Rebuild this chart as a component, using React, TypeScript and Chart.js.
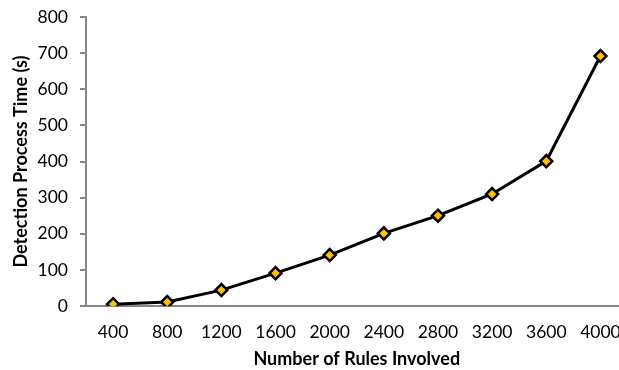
import React, { useEffect, useRef } from "react";
import { Chart, registerables } from "chart.js";

Chart.register(...registerables);

const categories = ["400", "800", "1200", "1600", "2000", "2400", "2800", "3200", "3600", "4000"];
const detectionTimes = [5, 11, 44, 91, 141, 201, 250, 310, 401, 692];
const xTitle = "Number of Rules Involved";
const yTitle = "Detection Process Time (s)";

export default function App() {
  const ref = useRef<HTMLCanvasElement | null>(null);
  useEffect(() => {
    if (!ref.current) return;
    const axisColor = "#868686";
    const chart = new Chart(ref.current, {
      type: "line",
      data: {
        labels: categories,
        datasets: [
          {
            data: detectionTimes,
            borderColor: "#000000",
            borderWidth: 3,
            pointStyle: "rectRot",
            pointRadius: 6,
            pointBorderWidth: 2.5,
            pointBackgroundColor: "#FFC000",
            pointBorderColor: "#000000",
            tension: 0,
          },
        ],
      },
      options: {
        animation: false,
        responsive: false,
        maintainAspectRatio: false,
        layout: { padding: { top: 17, left: 0, right: 0, bottom: 0 } },
        plugins: { legend: { display: false }, tooltip: { enabled: false } },
        scales: {
          x: {
            type: "category",
            offset: true,
            grid: { display: false },
            border: { display: true, color: axisColor, width: 2 },
            ticks: { color: "#000", font: { family: "Lato", size: 17.5 }, padding: 8, maxRotation: 0 },
            title: {
              display: true,
              text: xTitle,
              color: "#000",
              font: { family: "Lato", size: 18, weight: "bold" },
              padding: { top: 4, bottom: 0 },
            },
            afterFit: (s: any) => {
              s.height = 64;
              s.paddingLeft = 0;
              s.paddingRight = 0;
            },
          },
          y: {
            min: 0,
            max: 800,
            ticks: { stepSize: 100, color: "#000", font: { family: "Lato", size: 17.5 }, padding: 12 },
            grid: { display: true, drawOnChartArea: false, drawTicks: true, tickLength: 6, color: axisColor, lineWidth: 2 },
            border: { display: true, color: axisColor, width: 2 },
            title: {
              display: true,
              text: yTitle,
              color: "#000",
              font: { family: "Lato", size: 18, weight: "bold" },
              padding: { top: 10, bottom: 0 },
            },
            afterFit: (s: any) => {
              s.width = 86;
              s.paddingTop = 0;
              s.paddingBottom = 0;
            },
          },
        },
      },
    });
    return () => chart.destroy();
  }, []);
  return (
    <div style={{ position: "fixed", left: 0, top: 0, width: 619, height: 370, overflow: "hidden", background: "#fff" }}>
      <canvas ref={ref} width={636} height={370} style={{ display: "block" }} />
    </div>
  );
}
